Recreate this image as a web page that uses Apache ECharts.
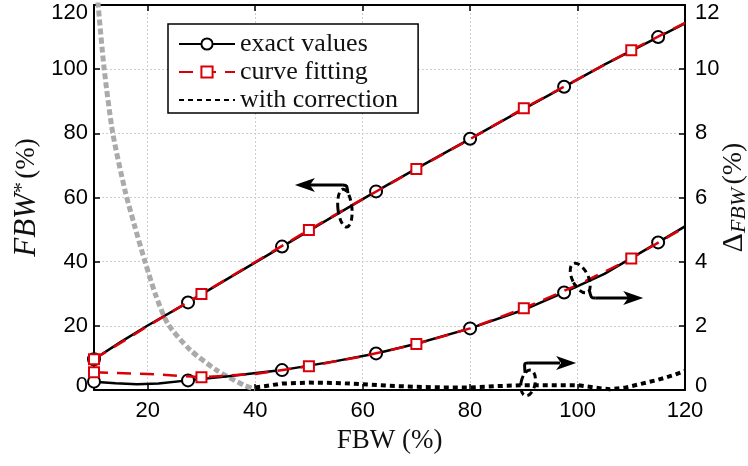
<!DOCTYPE html>
<html>
<head>
<meta charset="utf-8">
<script src="https://cdn.jsdelivr.net/npm/echarts@6/dist/echarts.min.js"></script>
<style>
  html, body { margin: 0; padding: 0; background: #fff; }
  #chart { width: 748px; height: 466px; }
</style>
</head>
<body>
<div id="chart"></div>
<script>
// FBW (%) versus mapped bandwidth FBW* (left axis) and error Δ_FBW (right axis)
const exactUpper = [[10, 9.6], [15, 15.0], [20, 20.1], [27.5, 27.3], [35, 34.8], [45, 44.7], [55, 54.6],
  [62.5, 61.9], [70, 69.0], [80, 78.3], [90, 87.6], [97.5, 94.5], [105, 101.4], [115, 110.0], [120, 114.3]];
const fitUpper = [[10, 9.6], [20, 19.9], [30, 29.9], [40, 39.9], [50, 49.9], [60, 59.5], [70, 68.9],
  [80, 78.2], [90, 87.8], [100, 96.8], [110, 105.9], [120, 114.4]];
const exactLower = [[10, 0.26], [14, 0.21], [18, 0.18], [22, 0.2], [27.5, 0.3], [35, 0.43], [45, 0.62],
  [55, 0.9], [62.5, 1.14], [70, 1.44], [80, 1.92], [90, 2.5], [97.5, 3.04], [105, 3.62], [115, 4.6], [120, 5.1]];
const fitLower = [[10, 0.55], [20, 0.5], [30, 0.4], [40, 0.5], [50, 0.74], [60, 1.05], [70, 1.43],
  [80, 1.92], [90, 2.55], [100, 3.27], [110, 4.1], [120, 5.08]];
const corrected = [[40, 0.08], [45, 0.2], [50, 0.23], [55, 0.22], [60, 0.18], [65, 0.13], [70, 0.1],
  [75, 0.08], [80, 0.08], [85, 0.12], [90, 0.15], [95, 0.15], [100, 0.15], [103, 0.08], [106, 0.02],
  [109, 0.08], [112, 0.2], [115, 0.32], [118, 0.47], [120, 0.6]];
const uncorrected = [[10, 13.5], [10.8, 11.95], [11.9, 10.0], [13.5, 8.0], [15.8, 6.2], [17.5, 5.15],
  [19.5, 4.0], [21.5, 2.95], [23.8, 2.05], [27.9, 1.25], [32.8, 0.62], [37.8, 0.16], [40, 0.02]];

const exactMarks = [10, 27.5, 45, 62.5, 80, 97.5, 115];
const fitMarks = [10, 30, 50, 70, 90, 110];

const xTickLabels = [20, 40, 60, 80, 100, 120];
const leftTickLabels = [0, 20, 40, 60, 80, 100, 120];
const rightTickLabels = [0, 2, 4, 6, 8, 10, 12];

const seriesNames = ['exact values', 'curve fitting', 'with correction'];

const RED = '#d9000a';
const TICK_FONT = { fontFamily: 'Liberation Sans', fontSize: 22, color: '#000' };

// only the listed x positions carry a marker; the rest are plain line vertices
function withMarks(points, marks) {
  return points.map(p => marks.includes(p[0]) ? { value: p } : { value: p, symbol: 'none' });
}

// y tick labels: the end labels are nudged inward so they stay inside the canvas
function yLabel(list) {
  return v => {
    if (!list.includes(v)) return '';
    if (v === list[list.length - 1]) return '{hi|' + v + '}';
    if (v === list[0]) return '{lo|' + v + '}';
    return String(v);
  };
}
const endRich = { hi: { padding: [16, 0, 0, 0] }, lo: { padding: [0, 0, 9, 0] } };

const gridLine = { show: true, lineStyle: { color: '#cdcdcd', width: 1, type: [2, 2] } };

const option = {
  animation: false,
  backgroundColor: '#fff',
  grid: { left: 94, right: 63, top: 5, bottom: 76, show: false, outerBoundsMode: 'none', containLabel: false },
  legend: {
    data: seriesNames,
    orient: 'vertical',
    left: 168, top: 24,
    padding: [7, 20, 0, 10],
    itemGap: 2,
    itemWidth: 56, itemHeight: 14,
    backgroundColor: '#fff',
    borderColor: '#000', borderWidth: 1.5, borderRadius: 0,
    textStyle: { fontFamily: 'Liberation Serif', fontSize: 26, color: '#111', lineHeight: 24 }
  },
  xAxis: [{
    type: 'value', min: 10, max: 120, splitNumber: 5,
    name: 'FBW (%)', nameLocation: 'middle', nameGap: 37, nameMoveOverlap: false,
    nameTextStyle: { fontFamily: 'Liberation Serif', fontSize: 27, color: '#111' },
    axisLine: { show: true, onZero: false, lineStyle: { color: '#000', width: 2 } },
    axisTick: { show: true, inside: true, length: 6, lineStyle: { color: '#000', width: 1.5 } },
    axisLabel: Object.assign({ margin: 10, formatter: v => xTickLabels.includes(v) ? String(v) : '' }, TICK_FONT),
    splitLine: gridLine
  }, {
    type: 'value', min: 10, max: 120, splitNumber: 5, position: 'top',
    axisLine: { show: true, onZero: false, lineStyle: { color: '#000', width: 2 } },
    axisTick: { show: true, inside: true, length: 6, lineStyle: { color: '#000', width: 1.5 } },
    axisLabel: { show: false },
    splitLine: { show: false }
  }],
  yAxis: [{
    type: 'value', min: 0, max: 120, interval: 20, position: 'left',
    name: '{i|FBW}{s|*} {n|(%)}', nameLocation: 'middle', nameRotate: 90, nameGap: 51, nameMoveOverlap: false,
    nameTextStyle: {
      rich: {
        i: { fontFamily: 'Liberation Serif', fontStyle: 'italic', fontSize: 31, color: '#111' },
        s: { fontFamily: 'Liberation Serif', fontSize: 22, color: '#111', verticalAlign: 'top', padding: [0, 0, 10, 0] },
        n: { fontFamily: 'Liberation Serif', fontSize: 27, color: '#111' }
      }
    },
    axisLine: { show: true, lineStyle: { color: '#000', width: 2 } },
    axisTick: { show: true, inside: true, length: 6, lineStyle: { color: '#000', width: 1.5 } },
    axisLabel: Object.assign({ margin: 6, formatter: yLabel(leftTickLabels), rich: endRich }, TICK_FONT),
    splitLine: gridLine
  }, {
    type: 'value', min: 0, max: 12, interval: 2, position: 'right',
    name: '{d|Δ}{b|FBW} {n|(%)}', nameLocation: 'middle', nameRotate: 90, nameGap: 33, nameMoveOverlap: false,
    nameTextStyle: {
      rich: {
        d: { fontFamily: 'Liberation Serif', fontSize: 30, color: '#111' },
        b: { fontFamily: 'Liberation Serif', fontStyle: 'italic', fontSize: 22, color: '#111', verticalAlign: 'bottom', padding: [10, 0, 0, 0] },
        n: { fontFamily: 'Liberation Serif', fontSize: 28, color: '#111' }
      }
    },
    axisLine: { show: true, lineStyle: { color: '#000', width: 2 } },
    axisTick: { show: true, inside: true, length: 6, lineStyle: { color: '#000', width: 1.5 } },
    axisLabel: Object.assign({ margin: 10, formatter: yLabel(rightTickLabels), rich: endRich }, TICK_FONT),
    splitLine: { show: false }
  }],
  series: [
    {
      name: 'uncorrected', type: 'line', xAxisIndex: 0, yAxisIndex: 1, clip: true,
      data: uncorrected, symbol: 'none', smooth: 0.25,
      lineStyle: { color: '#aaaaaa', width: 5, type: [6, 3] }, z: 1
    },
    {
      name: seriesNames[0], type: 'line', xAxisIndex: 0, yAxisIndex: 0,
      data: withMarks(exactUpper, exactMarks), symbol: 'emptyCircle', symbolSize: 12, showSymbol: true,
      lineStyle: { color: '#000', width: 2.5 }, itemStyle: { color: '#000', borderWidth: 2.2 }, z: 2
    },
    {
      name: seriesNames[0], type: 'line', xAxisIndex: 0, yAxisIndex: 1,
      data: withMarks(exactLower, exactMarks), symbol: 'emptyCircle', symbolSize: 12, showSymbol: true,
      lineStyle: { color: '#000', width: 2.5 }, itemStyle: { color: '#000', borderWidth: 2.2 }, z: 2
    },
    {
      name: seriesNames[1], type: 'line', xAxisIndex: 0, yAxisIndex: 0,
      data: withMarks(fitUpper, fitMarks), symbol: 'emptyRect', symbolSize: 10, showSymbol: true,
      lineStyle: { color: RED, width: 2.5, type: [14, 9] }, itemStyle: { color: RED, borderWidth: 2.2 }, z: 3
    },
    {
      name: seriesNames[1], type: 'line', xAxisIndex: 0, yAxisIndex: 1,
      data: withMarks(fitLower, fitMarks), symbol: 'emptyRect', symbolSize: 10, showSymbol: true,
      lineStyle: { color: RED, width: 2.5, type: [14, 9] }, itemStyle: { color: RED, borderWidth: 2.2 }, z: 3
    },
    {
      name: seriesNames[2], type: 'line', xAxisIndex: 0, yAxisIndex: 1,
      data: corrected, symbol: 'none',
      lineStyle: { color: '#000', width: 4, type: [5, 4] },
      itemStyle: { color: 'rgba(0,0,0,0)', borderColor: 'rgba(0,0,0,0)' }, z: 4
    }
  ]
};

const chart = echarts.init(document.getElementById('chart'));
chart.setOption(option);

// Arrow/ellipse call-outs tying each curve family to its axis
const toPx = (x, y) => chart.convertToPixel({ xAxisIndex: 0, yAxisIndex: 0 }, [x, y]);
const callouts = [
  { at: [56.7, 56.7], rx: 7, ry: 19, rot: 0.1, dir: -1 },
  { at: [100.5, 34.9], rx: 8, ry: 16, rot: 0.45, dir: 1 },
  { at: [90.8, 2.2], rx: 7, ry: 13, rot: -0.2, dir: 1 }
];
const ink = '#000';
const elements = [];
function arrowHead(tip, dir) {
  const [tx, ty] = tip;
  const L = 20, W = 7, N = 5;
  return {
    type: 'polygon', z: 100,
    shape: { points: [[tx, ty], [tx - dir * L, ty - W], [tx - dir * (L - N), ty], [tx - dir * L, ty + W]] },
    style: { fill: ink }
  };
}
callouts.forEach((c, k) => {
  const [cx, cy] = toPx(c.at[0], c.at[1]);
  elements.push({
    type: 'ellipse', x: cx, y: cy, rotation: c.rot, z: 100,
    shape: { cx: 0, cy: 0, rx: c.rx, ry: c.ry },
    style: { fill: 'none', stroke: ink, lineWidth: 3, lineDash: [6, 4] }
  });
  let path, tip;
  if (k === 0) {
    const y0 = cy - 23;
    path = [[cx + 3, cy - 15], [cx + 2, y0], [cx - 2, y0], [cx - 36, y0]];
    tip = [cx - 50, y0];
  } else if (k === 1) {
    const y0 = cy + 20;
    path = [[cx + 9, cy + 12], [cx + 11, y0], [cx + 15, y0], [cx + 48, y0]];
    tip = [cx + 63, y0];
  } else {
    const y0 = cy - 20;
    path = [[cx - 3, cy - 10], [cx - 4, y0], [cx, y0], [cx + 32, y0]];
    tip = [cx + 48, y0];
  }
  elements.push({
    type: 'bezierCurve', z: 100,
    shape: { x1: path[0][0], y1: path[0][1], cpx1: path[1][0], cpy1: path[1][1], cpx2: path[1][0], cpy2: path[1][1], x2: path[2][0], y2: path[2][1] },
    style: { fill: 'none', stroke: ink, lineWidth: 3 }
  });
  elements.push({
    type: 'line', z: 100,
    shape: { x1: path[2][0], y1: path[2][1], x2: path[3][0], y2: path[3][1] },
    style: { stroke: ink, lineWidth: 3 }
  });
  elements.push(arrowHead(tip, c.dir));
});
chart.setOption({ graphic: { elements } });
</script>
</body>
</html>
